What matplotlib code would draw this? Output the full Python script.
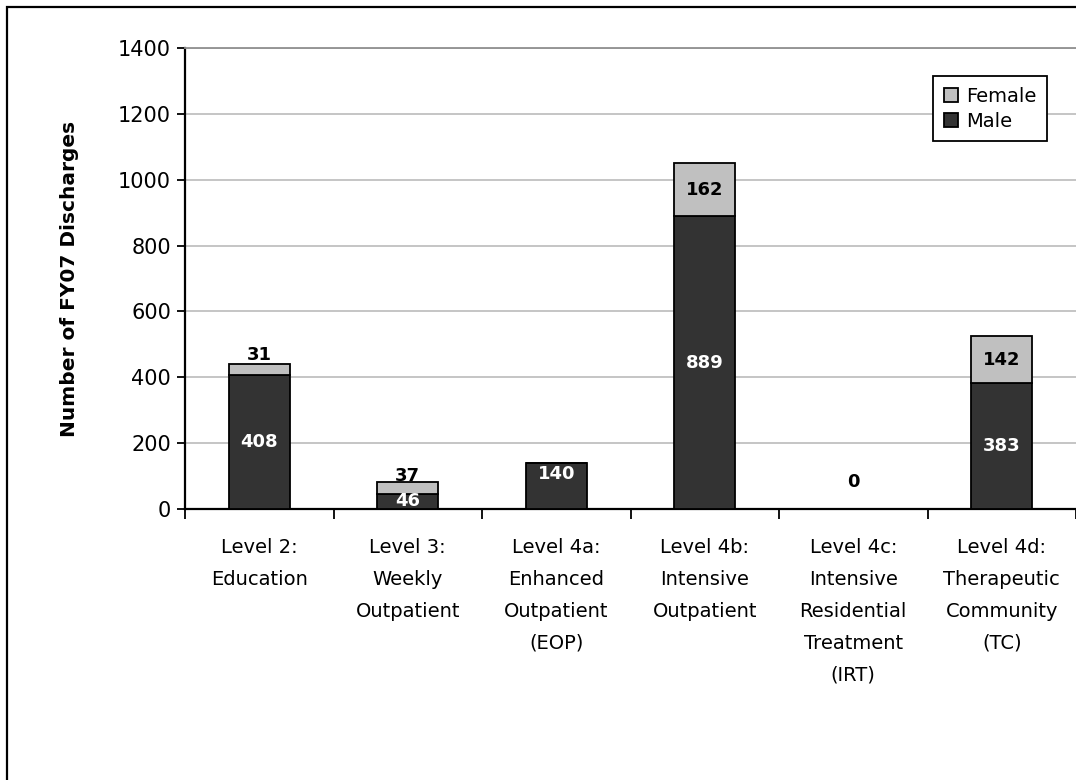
import matplotlib.pyplot as plt
import numpy as np
from matplotlib.patches import Rectangle

CATEGORIES = [
    "Level 2:\nEducation",
    "Level 3:\nWeekly\nOutpatient",
    "Level 4a:\nEnhanced\nOutpatient\n(EOP)",
    "Level 4b:\nIntensive\nOutpatient",
    "Level 4c:\nIntensive\nResidential\nTreatment\n(IRT)",
    "Level 4d:\nTherapeutic\nCommunity\n(TC)",
]
MALE = [408, 46, 140, 889, 0, 383]
FEMALE = [31, 37, 0, 162, 0, 142]
Y_TICKS = [0, 200, 400, 600, 800, 1000, 1200, 1400]

MALE_COLOR = "#333333"
FEMALE_COLOR = "#c0c0c0"
FONT = "DejaVu Sans"

# vertical nudges (pixels) for labels that sit away from their segment centre
MALE_NUDGE = [0, 0, 12, 0, 27, 0]
FEMALE_NUDGE = [0, 0, 0, 0, 0, 0]

plt.rcParams["font.family"] = FONT

fig = plt.figure(figsize=(10.76, 7.8), dpi=100)
ax = fig.add_axes([185 / 1076, 1 - 509 / 780, 891 / 1076, 461 / 780])

# frame round the whole chart (right and bottom fall outside the canvas)
fig.patches.append(
    Rectangle((7 / 1076, -0.2), 1.2, 1.2 - 7 / 780,
              transform=fig.transFigure, fill=False, edgecolor="black",
              linewidth=1.6, zorder=0)
)

x = np.arange(len(CATEGORIES))
width = 0.41
male_bars = ax.bar(x, MALE, width, color=MALE_COLOR, edgecolor="black",
                   linewidth=1.3, label="Male", zorder=3)
female_bars = ax.bar(x, FEMALE, width, bottom=MALE, color=FEMALE_COLOR,
                     edgecolor="black", linewidth=1.3, label="Female", zorder=3)

px = 72 / fig.dpi
for i, (m, f) in enumerate(zip(MALE, FEMALE)):
    color = "white" if m > 0 else "black"
    ax.annotate(str(m), (x[i], m / 2), xytext=(0, MALE_NUDGE[i] * px),
                textcoords="offset points", ha="center", va="center",
                fontsize=13, fontweight="bold", color=color, zorder=5)
    if f > 0:
        if f < 60:
            # thin segments get their label just above the bar
            y = m + f
            nudge = 9 if i == 0 else 6
        else:
            y = m + f / 2
            nudge = FEMALE_NUDGE[i]
        ax.annotate(str(f), (x[i], y), xytext=(0, nudge * px),
                    textcoords="offset points", ha="center", va="center",
                    fontsize=13, fontweight="bold", color="black", zorder=5)

ax.set_xlim(-0.5, len(CATEGORIES) - 0.5)
ax.set_ylim(0, 1400)
ax.set_yticks(Y_TICKS)
ax.tick_params(axis="y", direction="out", length=6, width=1.3, labelsize=15, pad=4)
ax.yaxis.grid(True, color="#c0c0c0", linewidth=1.3, zorder=0)
ax.set_axisbelow(True)

ax.set_xticks(np.arange(-0.5, len(CATEGORIES), 1.0))
ax.set_xticklabels([])
ax.tick_params(axis="x", which="major", direction="out", length=7, width=1.3)
ax.set_xticks(x, minor=True)
ax.set_xticklabels(CATEGORIES, minor=True, fontsize=14, linespacing=1.86, va="top")
ax.tick_params(axis="x", which="minor", length=0, pad=21)

ax.set_ylabel("Number of FY07 Discharges", fontsize=14.5, fontweight="bold", labelpad=28)

ax.spines["left"].set_linewidth(1.6)
ax.spines["bottom"].set_linewidth(1.6)
ax.spines["top"].set_color("#909090")
ax.spines["top"].set_linewidth(1.3)
ax.spines["right"].set_visible(False)

handles = [female_bars, male_bars]
leg = ax.legend(handles, ["Female", "Male"], loc="upper left",
                bbox_to_anchor=((933 - 185) / 891, 1 - (76 - 48) / 461), fontsize=14,
                frameon=True, fancybox=False, edgecolor="black", framealpha=1,
                handlelength=0.75, handleheight=0.75, handletextpad=0.4,
                borderpad=0.55, labelspacing=0.3, borderaxespad=0)
leg.get_frame().set_linewidth(1.3)

fig.savefig("out.png", dpi=100)
